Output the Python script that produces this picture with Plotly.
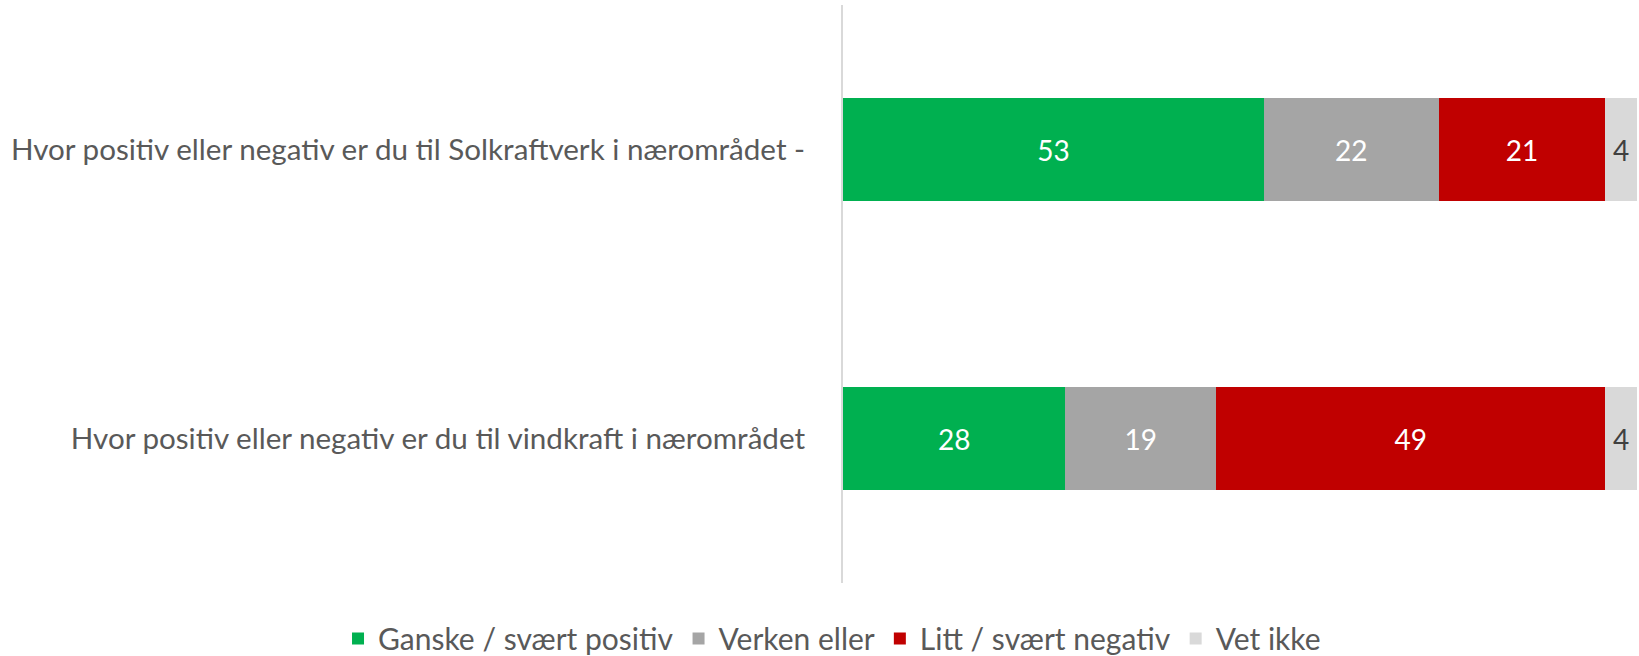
import plotly.graph_objects as go

categories = [
    "Hvor positiv eller negativ er du til Solkraftverk i nærområdet -",
    "Hvor positiv eller negativ er du til vindkraft i nærområdet",
]
series_names = ["Ganske / svært positiv", "Verken eller", "Litt / svært negativ", "Vet ikke"]
values = {
    "Ganske / svært positiv": [53, 28],
    "Verken eller": [22, 19],
    "Litt / svært negativ": [21, 49],
    "Vet ikke": [4, 4],
}
colors = ["#00B050", "#A5A5A5", "#C00000", "#D9D9D9"]
text_colors = ["#FFFFFF", "#FFFFFF", "#FFFFFF", "#404040"]

FONT = "Lato"

fig = go.Figure()
for name, col, tcol in zip(series_names, colors, text_colors):
    fig.add_trace(go.Bar(
        y=categories, x=values[name], name=name, orientation="h",
        marker=dict(color=col, line=dict(width=0)),
        text=[str(v) for v in values[name]], textposition="inside",
        insidetextanchor="middle", constraintext="none",
        textfont=dict(color=tcol, size=28, family=FONT),
        hoverinfo="skip",
    ))

fig.update_layout(
    barmode="stack", bargap=0.647,
    width=1639, height=656,
    margin=dict(l=843, r=2, t=5, b=73, autoexpand=False),
    plot_bgcolor="white", paper_bgcolor="white",
    font=dict(family=FONT, size=29.6, color="#595959"),
    showlegend=True,
    legend=dict(orientation="h", xref="paper", yref="paper",
                x=-0.636, xanchor="left", y=-0.096, yanchor="middle",
                font=dict(size=30, color="#595959", family=FONT),
                itemwidth=30, traceorder="normal"),
    xaxis=dict(range=[0, 100], showgrid=False, showticklabels=False,
               zeroline=False, showline=False, fixedrange=True),
    yaxis=dict(autorange="reversed", showgrid=False, showline=True,
               linecolor="#D9D9D9", linewidth=2, ticks="",
               ticklabelstandoff=30, fixedrange=True,
               tickfont=dict(size=29.6, color="#595959", family=FONT)),
)

fig.write_html("out.html", config={"displayModeBar": False},
               post_script="document.body.style.margin='0px';")
